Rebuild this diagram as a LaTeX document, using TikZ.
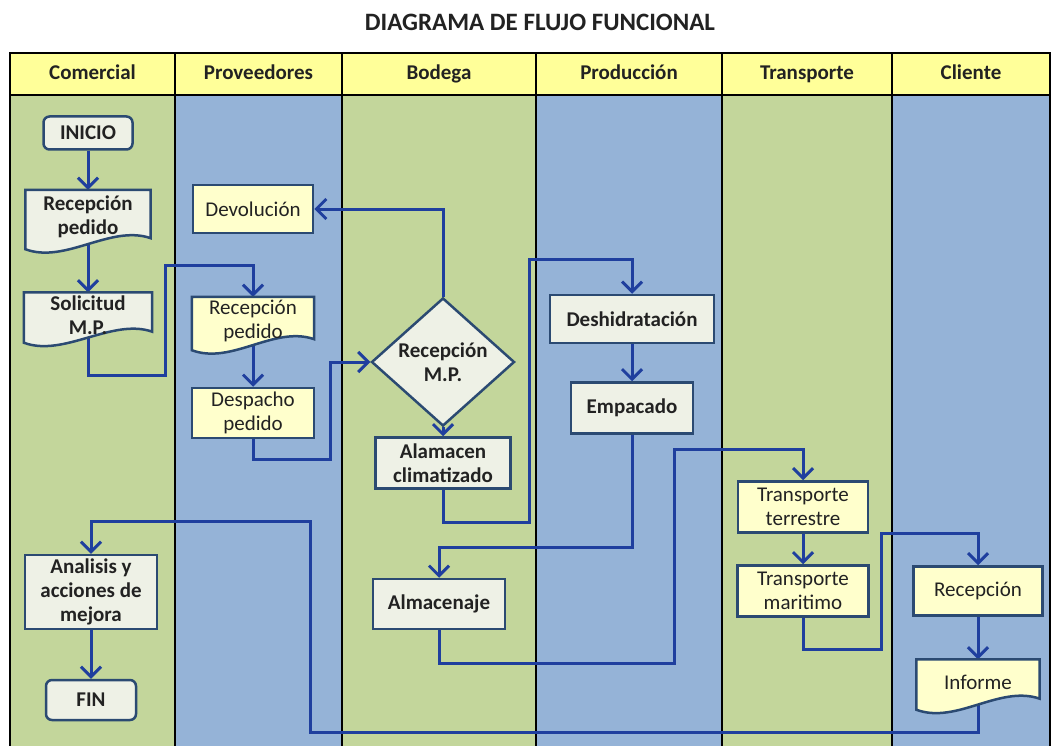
\documentclass[tikz,border=0pt]{standalone}
\usepackage{fontspec}
\setmainfont{Carlito}
\usetikzlibrary{shapes.geometric,arrows.meta,calc}
\definecolor{lanegreen}{HTML}{C3D69B}
\definecolor{laneblue}{HTML}{95B3D7}
\definecolor{headyellow}{HTML}{FFFF99}
\definecolor{boxfill}{HTML}{EEF1E6}
\definecolor{boxcream}{HTML}{FFFFCC}
\definecolor{boxline}{HTML}{2B4A72}
\definecolor{flowblue}{HTML}{1F3F9E}
\definecolor{inkdark}{HTML}{222222}
\pgfdeclarelayer{lanes}
\pgfdeclarelayer{links}
\pgfdeclarelayer{docs}
\pgfsetlayers{lanes,links,docs,main}
% wavy bottom of a document box
\newcommand{\docpath}[2]{%
  \path[docline, fill=#2] (#1.north west) -- (#1.north east)
    -- ($(#1.south east)+(0,-6)$)
    .. controls ($(#1.south east)+(-40,-20)$) and ($(#1.south west)+(40,20)$) ..
    ($(#1.south west)+(0,5)$) -- cycle;}

\begin{document}
\begin{tikzpicture}[x=1pt, y=-1pt,
    frame/.style={black, line width=2pt},
    head/.style={font=\fontsize{21}{24}\selectfont\bfseries, text=inkdark, text height=14pt, text depth=5pt},
    box/.style={draw=boxline, line width=2.5pt, fill=boxfill, align=center, inner sep=2pt,
      font=\fontsize{21}{24}\selectfont\bfseries, text=inkdark},
    boxr/.style={box, fill=boxcream, font=\fontsize{21}{24}\selectfont},
    term/.style={box, rounded corners=6pt},
    doc/.style={align=center, inner sep=2pt, font=\fontsize{21}{24}\selectfont\bfseries, text=inkdark},
    docr/.style={doc, font=\fontsize{21}{24}\selectfont},
    docline/.style={draw=boxline, line width=2.5pt},
    link/.style={draw=flowblue, line width=3pt},
    arr/.style={link, -{Straight Barb[length=10pt,width=20pt]}}]
  \useasboundingbox (0,0) rectangle (1051,746);

  \node[font=\fontsize{25}{28}\selectfont\bfseries, text=inkdark] (title) at (540,22) {DIAGRAMA DE FLUJO FUNCIONAL};

  \begin{pgfonlayer}{lanes}
    \fill[headyellow] (10,53) rectangle (1050,95);
    \foreach \xa/\xb/\col/\txt [count=\i] in {10/175/lanegreen/Comercial, 175/342/laneblue/Proveedores,
        342/536/lanegreen/Bodega, 536/722/laneblue/Producción, 722/892/lanegreen/Transporte,
        892/1050/laneblue/Cliente} {
      \fill[\col] (\xa,95) rectangle (\xb,746);
      \node[head] (head\i) at ({(\xa+\xb)/2},75) {\txt};
    }
    \draw[frame] (10,746) -- (10,53) -- (1050,53) -- (1050,746);
    \draw[frame] (10,95) -- (1050,95);
    \foreach \x in {175,342,536,722,892}
      \draw[frame] (\x,53) -- (\x,746);
  \end{pgfonlayer}

  % Comercial
  \node[term, minimum width=89, minimum height=33] (inicio) at (88,133) {INICIO};
  \node[doc, minimum width=125, minimum height=54] (recped1) at (88,217) {Recepción\\pedido};
  \node[doc, minimum width=128, minimum height=45] (solic) at (88,315) {Solicitud\\M.P.};
  \node[box, minimum width=132, minimum height=74] (analisis) at (91,592) {Analisis y\\acciones de\\mejora};
  \node[term, minimum width=90, minimum height=40] (fin) at (91,700) {FIN};
  % Proveedores
  \node[boxr, minimum width=120, minimum height=48] (devol) at (253,209) {Devolución};
  \node[docr, minimum width=122, minimum height=48] (recped2) at (253,321) {Recepción\\pedido};
  \node[boxr, minimum width=122, minimum height=50] (despacho) at (253,413) {Despacho\\pedido};
  % Bodega
  \node[box, diamond, inner sep=0pt, minimum width=143, minimum height=75] (recmp) at (443,362) {Recepción\\M.P.};
  \node[box, minimum width=135, minimum height=51] (alamacen) at (443,463) {Alamacen\\climatizado};
  \node[box, minimum width=132, minimum height=50] (almacenaje) at (439,604) {Almacenaje};
  % Produccion
  \node[box, minimum width=164, minimum height=48] (deshid) at (632,319) {Deshidratación};
  \node[box, minimum width=122, minimum height=51] (empacado) at (632,408) {Empacado};
  % Transporte
  \node[boxr, minimum width=130, minimum height=51] (tterr) at (803,507) {Transporte\\terrestre};
  \node[boxr, minimum width=131, minimum height=51] (tmar) at (803,591) {Transporte\\maritimo};
  % Cliente
  \node[boxr, minimum width=129, minimum height=49] (recep) at (978,591) {Recepción};
  \node[docr, minimum width=123, minimum height=45] (informe) at (978,682) {Informe};

  \begin{pgfonlayer}{docs}
    \docpath{recped1}{boxfill}
    \docpath{solic}{boxfill}
    \docpath{recped2}{boxcream}
    \docpath{informe}{boxcream}
  \end{pgfonlayer}

  \begin{pgfonlayer}{links}
    \draw[arr] (inicio) -- (recped1);
    \draw[arr] (recped1) -- (solic);
    \draw[arr] (solic.south) -- (solic.south |- 0,375) -| (165,265) -| (recped2.north);
    \draw[arr] (recped2) -- (despacho);
    \draw[arr] (despacho.south) -- (despacho.south |- 0,459) -| (330,362) -- (recmp.west);
    \draw[arr] (recmp.north) |- (devol.east);
    \draw[arr] (recmp) -- (alamacen);
    \draw[arr] (alamacen.south) -- (alamacen.south |- 0,522) -| (529,259) -| (deshid.north);
    \draw[arr] (deshid) -- (empacado);
    \draw[arr] (empacado.south) -- (empacado.south |- 0,547) -| (almacenaje.north);
    \draw[arr] (almacenaje.south) -- (almacenaje.south |- 0,663) -| (674,449) -| (tterr.north);
    \draw[arr] (tterr) -- (tmar);
    \draw[arr] (tmar.south) -- (tmar.south |- 0,649) -| (881,533) -| (recep.north);
    \draw[arr] (recep) -- (informe);
    \draw[arr] (informe.south) -- (informe.south |- 0,732) -| (310,521) -| (analisis.north);
    \draw[arr] (analisis) -- (fin);
  \end{pgfonlayer}
\end{tikzpicture}
\end{document}
